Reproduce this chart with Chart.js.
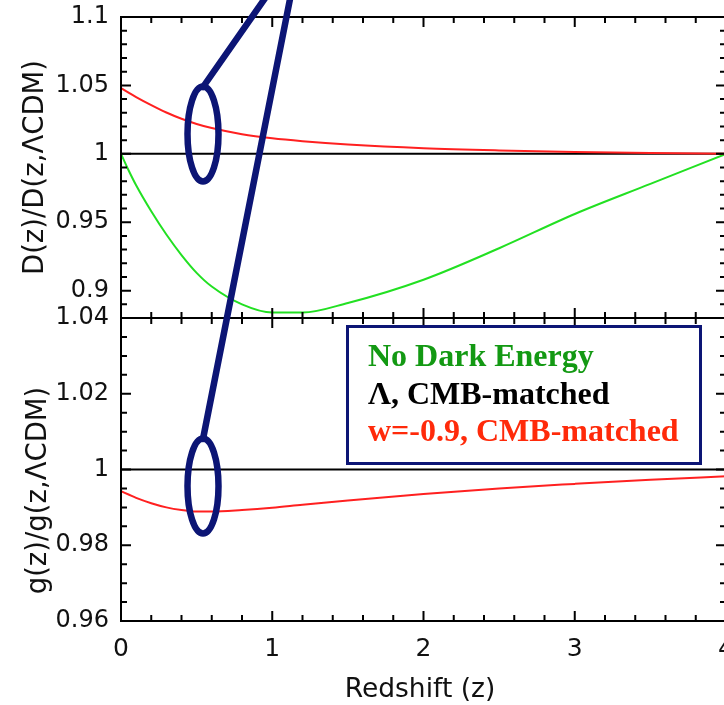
<!DOCTYPE html>
<html>
<head>
<meta charset="utf-8">
<script src="https://cdn.jsdelivr.net/npm/chart.js@4.4.1/dist/chart.umd.min.js"></script>
<style>
  html, body { margin: 0; padding: 0; background: #fff; overflow: hidden; }
  #wrap { width: 740px; height: 705px; }
</style>
</head>
<body>
<div id="wrap"><canvas id="chart" width="740" height="705"></canvas></div>
<script>
'use strict';

// ── Data ──────────────────────────────────────────────────────
const redshift = [0, 0.05, 0.1, 0.2, 0.3, 0.4, 0.5, 0.6, 0.8, 1.0, 1.2, 1.5, 2.0, 2.5, 3.0, 3.5, 4.0];

// D(z)/D(z, ΛCDM)
const distNoDE = [1.000, 0.988, 0.977, 0.958, 0.941, 0.926, 0.913, 0.903, 0.890, 0.884, 0.884, 0.891, 0.908, 0.931, 0.956, 0.978, 1.000];
const distW09  = [1.048, 1.0447, 1.0415, 1.0356, 1.0302, 1.0256, 1.0218, 1.0188, 1.0143, 1.0113, 1.0092, 1.0068, 1.0041, 1.0025, 1.0014, 1.0006, 1.000];

// g(z)/g(z, ΛCDM)
const growthW09 = [0.9943, 0.9934, 0.9925, 0.9911, 0.9900, 0.9893, 0.9889, 0.9889, 0.9893, 0.9899, 0.9907, 0.9918, 0.9935, 0.9950, 0.9962, 0.9973, 0.9982];

// ΛCDM reference (ratio = 1)
const lcdmZ     = [0, 4];
const lcdmRatio = [1, 1];

// axis ticks
const xTicks    = [0, 1, 2, 3, 4];
const distTicks = [0.9, 0.95, 1, 1.05, 1.1];
const growTicks = [0.96, 0.98, 1, 1.02, 1.04];

const legendLines = ['No Dark Energy', 'Λ, CMB-matched', 'w=-0.9, CMB-matched'];

// ── Styles ────────────────────────────────────────────────────
const RED   = '#ff2020';
const GREEN = '#22e022';
const NAVY  = '#0c1575';
const LEGEND_COLORS = ['#139913', '#000000', '#ff2a0a'];
const TICK_FONT = { family: "'DejaVu Sans'", size: 24 };

const pts = (xs, ys) => xs.map((x, i) => ({ x, y: ys[i] }));
const fmt = v => String(+Number(v).toFixed(3));

const lineDs = (label, xs, ys, axis, color) => ({
  label, data: pts(xs, ys), yAxisID: axis,
  borderColor: color, borderWidth: 2, pointRadius: 0,
  cubicInterpolationMode: 'monotone', fill: false
});

// no label overhang padding: keep plot box where the figure has it
const fitY = s => { s.width = 121; s.paddingTop = 0; s.paddingBottom = 0; };
const fitX = s => { s.height = 84; s.paddingLeft = 0; s.paddingRight = 0; };

// ── Frame, inward ticks, titles, legend box, annotations ─────
const decorPlugin = {
  id: 'decor',
  afterDraw(chart) {
    const { ctx, chartArea: a, scales } = chart;
    const sx = scales.x;
    ctx.save();
    ctx.strokeStyle = '#000';
    ctx.lineWidth = 2;

    const panels = [
      { s: scales.yD, from: 88, to: 110, div: 100, major: 5 },
      { s: scales.yG, from: 192, to: 208, div: 200, major: 4 }
    ];
    panels.forEach(p => {
      const top = p.s.top, bot = p.s.bottom;
      ctx.strokeRect(a.left, top, a.right - a.left, bot - top);
      ctx.beginPath();
      for (let i = 1; i < 20; i++) {
        const px = sx.getPixelForValue(i * 0.2);
        const len = i % 5 === 0 ? 10 : 6;
        ctx.moveTo(px, top); ctx.lineTo(px, top + len);
        ctx.moveTo(px, bot); ctx.lineTo(px, bot - len);
      }
      for (let i = p.from; i <= p.to; i++) {
        const py = p.s.getPixelForValue(i / p.div);
        if (py <= top + 1 || py >= bot - 1) continue;
        const len = i % p.major === 0 ? 10 : 6;
        ctx.moveTo(a.left, py); ctx.lineTo(a.left + len, py);
        ctx.moveTo(a.right, py); ctx.lineTo(a.right - len, py);
      }
      ctx.stroke();
    });

    // axis titles
    ctx.fillStyle = '#111';
    ctx.font = "27.5px 'DejaVu Sans'";
    ctx.textAlign = 'center';
    ctx.textBaseline = 'alphabetic';
    const yTitle = (text, x, y) => {
      ctx.save(); ctx.translate(x, y); ctx.rotate(-Math.PI / 2);
      ctx.fillText(text, 0, 0); ctx.restore();
    };
    yTitle('D(z)/D(z,ΛCDM)', 43, (scales.yD.top + scales.yD.bottom) / 2);
    yTitle('g(z)/g(z,ΛCDM)', 46, (scales.yG.top + scales.yG.bottom) / 2 + 21);
    ctx.font = "26.5px 'DejaVu Sans'";
    ctx.fillText('Redshift (z)', 420, 697);

    // legend box
    ctx.fillStyle = '#fff';
    ctx.fillRect(347, 326, 354, 138);
    ctx.strokeStyle = NAVY;
    ctx.lineWidth = 3;
    ctx.strokeRect(347.5, 326.5, 353, 137);
    ctx.font = "bold 32px 'Liberation Serif'";
    ctx.textAlign = 'left';
    legendLines.forEach((t, i) => {
      ctx.fillStyle = LEGEND_COLORS[i];
      ctx.fillText(t, 368, 366 + i * 37.5);
    });

    // annotation ellipses + pointer lines
    ctx.strokeStyle = NAVY;
    ctx.lineWidth = 6.5;
    ctx.lineCap = 'round';
    ctx.beginPath();
    ctx.ellipse(203, 134, 15.5, 47.5, 0, 0, Math.PI * 2);
    ctx.moveTo(203 + 15.5, 486);
    ctx.ellipse(203, 486, 15.5, 47.5, 0, 0, Math.PI * 2);
    ctx.stroke();
    ctx.beginPath();
    ctx.moveTo(203, 87); ctx.lineTo(268, -6);
    ctx.moveTo(203, 439); ctx.lineTo(291, -6);
    ctx.stroke();
    ctx.restore();
  }
};

// ── Chart ─────────────────────────────────────────────────────
const chart = new Chart(document.getElementById('chart'), {
  type: 'line',
  data: {
    datasets: [
      lineDs('w=-0.9, CMB-matched', redshift, distW09, 'yD', RED),
      lineDs('No Dark Energy', redshift, distNoDE, 'yD', GREEN),
      lineDs('Λ, CMB-matched', lcdmZ, lcdmRatio, 'yD', '#000'),
      lineDs('w=-0.9, CMB-matched', redshift, growthW09, 'yG', RED),
      lineDs('Λ, CMB-matched', lcdmZ, lcdmRatio, 'yG', '#000')
    ]
  },
  options: {
    responsive: false,
    animation: false,
    events: [],
    layout: { padding: { top: 17, right: 14, left: 0, bottom: 0 } },
    plugins: { legend: { display: false }, tooltip: { enabled: false } },
    scales: {
      x: {
        type: 'linear', min: 0, max: 4,
        grid: { display: false }, border: { display: false },
        afterFit: fitX,
        afterBuildTicks: s => { s.ticks = xTicks.map(v => ({ value: v })); },
        ticks: { font: { family: "'DejaVu Sans'", size: 25 }, color: '#111', padding: 5, maxRotation: 0, autoSkip: false }
      },
      yD: {
        type: 'linear', position: 'left', stack: 'panels', stackWeight: 301, weight: 2,
        min: 0.88, max: 1.1,
        grid: { display: false }, border: { display: false },
        afterFit: fitY,
        afterBuildTicks: s => { s.ticks = distTicks.map(v => ({ value: v })); },
        ticks: { font: TICK_FONT, color: '#111', padding: 4, callback: fmt }
      },
      yG: {
        type: 'linear', position: 'left', stack: 'panels', stackWeight: 303, weight: 1,
        min: 0.96, max: 1.04,
        grid: { display: false }, border: { display: false },
        afterFit: fitY,
        afterBuildTicks: s => { s.ticks = growTicks.map(v => ({ value: v })); },
        ticks: { font: TICK_FONT, color: '#111', padding: 4, callback: fmt }
      }
    }
  },
  plugins: [decorPlugin]
});
</script>
</body>
</html>
